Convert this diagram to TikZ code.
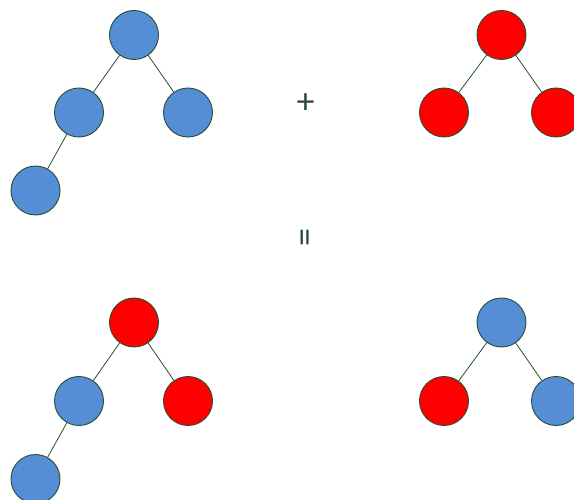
\documentclass[tikz,border=0pt]{standalone}
\usepackage{fontspec}
\setmainfont{Carlito}
\definecolor{nodeblue}{RGB}{85,142,213}
\definecolor{nodered}{RGB}{255,0,0}
\definecolor{edgegreen}{RGB}{38,78,54}
\begin{document}
\begin{tikzpicture}[x=1pt,y=-1pt,
  tn/.style={circle,draw=edgegreen,line width=0.9pt,minimum size=49pt,inner sep=0pt},
  bn/.style={tn,fill=nodeblue},
  rn/.style={tn,fill=nodered},
  edge/.style={draw=edgegreen,line width=0.8pt},
  sym/.style={text=edgegreen,font=\fontsize{36}{36}\selectfont,inner sep=0pt}]
\useasboundingbox (0,0) rectangle (574,500);
% top-left tree
\node[bn] (a1) at (134,35) {};
\node[bn] (a2) at (79,112.5) {};
\node[bn] (a3) at (188,112.5) {};
\node[bn] (a4) at (35.5,190.5) {};
\draw[edge] (a1) -- (a2);
\draw[edge] (a1) -- (a3);
\draw[edge] (a2) -- (a4);
% top-right tree
\node[rn] (b1) at (501.5,35) {};
\node[rn] (b2) at (444,112.5) {};
\node[rn] (b3) at (556,112.5) {};
\draw[edge] (b1) -- (b2);
\draw[edge] (b1) -- (b3);
% bottom-left tree
\node[rn] (c1) at (134,322.5) {};
\node[bn] (c2) at (79,401) {};
\node[rn] (c3) at (188,401) {};
\node[bn] (c4) at (35.5,479) {};
\draw[edge] (c1) -- (c2);
\draw[edge] (c1) -- (c3);
\draw[edge] (c2) -- (c4);
% bottom-right tree
\node[bn] (d1) at (501.5,322.5) {};
\node[rn] (d2) at (444,401) {};
\node[bn] (d3) at (556,401) {};
\draw[edge] (d1) -- (d2);
\draw[edge] (d1) -- (d3);
% symbols
\node[sym] (plus) at (305.5,104) {+};
\node[sym,rotate=90] (eq) at (309,237.5) {=};
\end{tikzpicture}
\end{document}
